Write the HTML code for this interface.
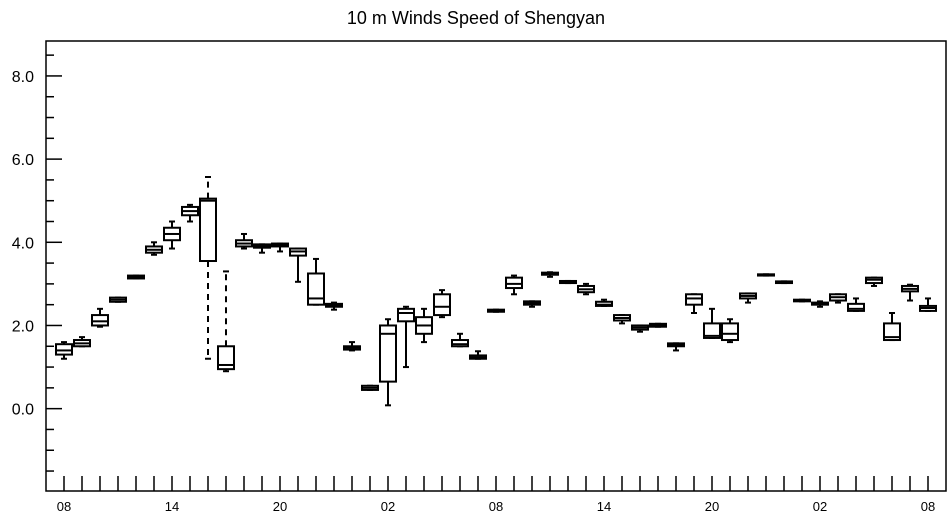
<!DOCTYPE html>
<html><head><meta charset="utf-8"><style>
body{margin:0;background:#fff}
svg text{font-family:"Liberation Sans",Helvetica,sans-serif;fill:#000}
</style></head><body>
<svg id="chart" width="952" height="520" xmlns="http://www.w3.org/2000/svg">
<text x="476" y="24" font-size="18" text-anchor="middle">10 m Winds Speed of Shengyan</text>
<g id="axes"></g><g id="boxes"></g>
</svg>
<script>
const hourLabels=["08","14","20","02","08","14","20","02","08"];
const yTicks=[0,2,4,6,8];
const wMin=[1.2,1.5,1.97,2.57,3.13,3.7,3.85,4.5,1.2,0.9,3.85,3.75,3.78,3.05,2.5,2.38,1.4,0.45,0.08,1.0,1.6,2.2,1.5,1.2,2.33,2.75,2.45,3.17,3.02,2.75,2.47,2.05,1.85,1.97,1.4,2.3,1.7,1.6,2.55,3.2,3.02,2.58,2.45,2.55,2.35,2.95,1.65,2.6,2.35];
const q1=[1.3,1.5,2.0,2.57,3.13,3.75,4.05,4.65,3.55,0.95,3.9,3.87,3.9,3.68,2.5,2.45,1.42,0.45,0.65,2.1,1.8,2.25,1.5,1.2,2.33,2.9,2.5,3.22,3.02,2.8,2.47,2.12,1.9,1.97,1.5,2.5,1.7,1.65,2.65,3.2,3.02,2.58,2.5,2.6,2.35,3.02,1.65,2.82,2.35];
const med=[1.4,1.57,2.1,2.62,3.17,3.82,4.2,4.75,5.0,1.05,3.97,3.91,3.93,3.78,2.65,2.48,1.46,0.5,1.8,2.3,2.0,2.45,1.55,1.24,2.35,3.0,2.54,3.25,3.05,2.87,2.5,2.18,1.95,2.0,1.54,2.65,1.75,1.8,2.71,3.21,3.04,2.6,2.52,2.68,2.4,3.1,1.72,2.88,2.42];
const q3=[1.55,1.65,2.25,2.67,3.2,3.9,4.35,4.85,5.05,1.5,4.05,3.95,3.97,3.85,3.25,2.52,1.5,0.55,2.0,2.4,2.2,2.75,1.65,1.28,2.38,3.15,2.58,3.27,3.07,2.95,2.57,2.25,2.0,2.04,1.57,2.75,2.05,2.05,2.77,3.23,3.06,2.62,2.55,2.75,2.52,3.15,2.05,2.95,2.47];
const wMax=[1.6,1.72,2.4,2.67,3.2,4.0,4.5,4.9,5.57,3.3,4.2,3.95,3.97,3.85,3.6,2.55,1.6,0.55,2.15,2.45,2.4,2.85,1.8,1.38,2.38,3.2,2.58,3.28,3.07,3.0,2.62,2.25,2.0,2.04,1.57,2.75,2.4,2.15,2.77,3.23,3.06,2.62,2.58,2.75,2.65,3.15,2.3,2.98,2.65];
const NS="http://www.w3.org/2000/svg";
const L=46,R=946,T=41,B=491,yMin=-1.98,yMax=8.84;
const y=v=>B-(v-yMin)/(yMax-yMin)*(B-T);
const x=i=>64+18*i;
function mk(t,a,p){const e=document.createElementNS(NS,t);for(const k in a)e.setAttribute(k,a[k]);p.appendChild(e);return e;}
const ax=document.getElementById('axes'),bx=document.getElementById('boxes');
const frame=mk('rect',{x:L,y:T,width:R-L,height:B-T,fill:'none',stroke:'#000','stroke-width':1.5},ax);


for(let v=-1.5;v<=8.5;v+=0.5){
  const major=yTicks.includes(v);
  const t=mk('line',{x1:L,x2:L+(major?16:8),y1:y(v),y2:y(v),stroke:'#000','stroke-width':1.5},ax);
  
  
}
yTicks.forEach(v=>{
  const t=mk('text',{x:34,y:y(v)+6,'font-size':16,'text-anchor':'end'},ax);t.textContent=v.toFixed(1);
  
  
});
for(let i=0;i<med.length;i++){
  const t=mk('line',{x1:x(i),x2:x(i),y1:B,y2:B-15,stroke:'#000','stroke-width':1.5},ax);
  
  
}
hourLabels.forEach((s,k)=>{
  const t=mk('text',{x:x(k*6),y:511,'font-size':13,'text-anchor':'middle'},ax);t.textContent=s;
  
  
});
for(let i=0;i<med.length;i++){
  const g=mk('g',{},bx);
  
  
  const cx=x(i),dash=(q1[i]-wMin[i]>1.5||wMax[i]-q3[i]>1.5)?'6,5':'none';
  mk('line',{x1:cx,x2:cx,y1:y(q1[i]),y2:y(wMin[i]),stroke:'#000','stroke-width':2,'stroke-dasharray':dash},g);
  mk('line',{x1:cx,x2:cx,y1:y(q3[i]),y2:y(wMax[i]),stroke:'#000','stroke-width':2,'stroke-dasharray':dash},g);
  mk('line',{x1:cx-3,x2:cx+3,y1:y(wMin[i]),y2:y(wMin[i]),stroke:'#000','stroke-width':2},g);
  mk('line',{x1:cx-3,x2:cx+3,y1:y(wMax[i]),y2:y(wMax[i]),stroke:'#000','stroke-width':2},g);
  mk('rect',{x:cx-8,y:y(q3[i]),width:16,height:Math.max(1,y(q1[i])-y(q3[i])),fill:'#fff',stroke:'#000','stroke-width':2},g);
  mk('line',{x1:cx-8,x2:cx+8,y1:y(med[i]),y2:y(med[i]),stroke:'#000','stroke-width':2},g);
}
</script>
</body></html>
